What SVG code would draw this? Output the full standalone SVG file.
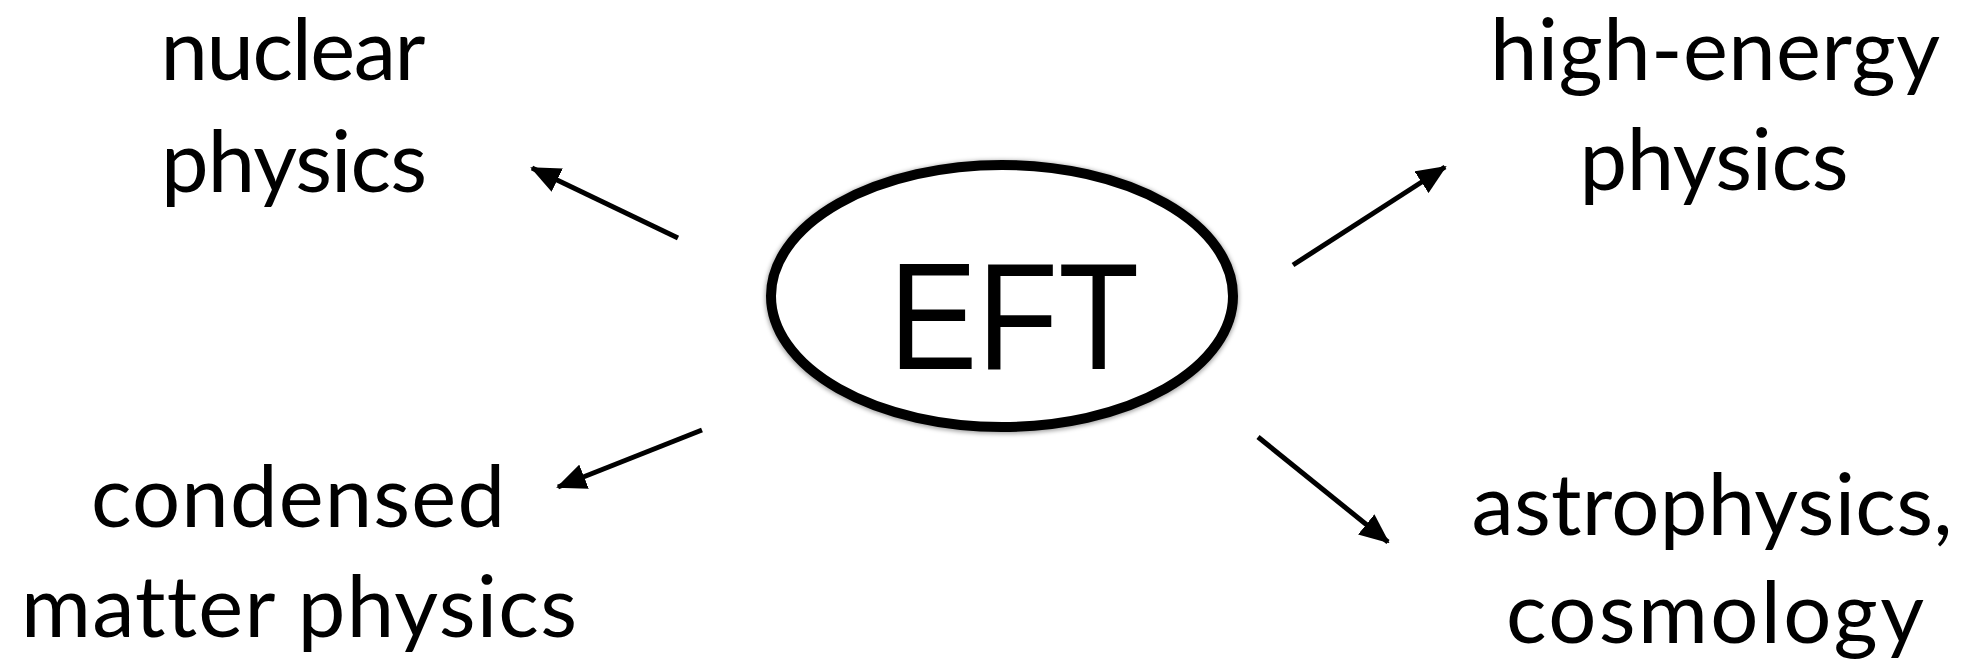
<svg xmlns="http://www.w3.org/2000/svg" width="1973" height="660" viewBox="0 0 1973 660">
<style>
.lbl{font-family:Lato,"Open Sans","Liberation Sans",sans-serif;font-size:85px;fill:#000;text-anchor:middle;font-variant-ligatures:none;font-feature-settings:"liga" 0,"dlig" 0}
.eft{font-family:"Liberation Sans",Arial,sans-serif;font-size:152px;fill:#000}
.arr{stroke:#000;stroke-width:5;fill:none;marker-end:url(#ah)}
</style>
<defs>
<marker id="ah" markerUnits="userSpaceOnUse" viewBox="0 0 30 26" refX="28" refY="13" markerWidth="30" markerHeight="26" orient="auto">
<path d="M0,0 L30,13 L0,26 Z" fill="#000"/>
</marker>
<filter id="sh" x="-10%" y="-10%" width="120%" height="120%">
<feGaussianBlur stdDeviation="2"/>
</filter>
</defs>
<rect width="1973" height="660" fill="#fff"/>
<g id="eft">
<ellipse cx="1002" cy="297" rx="231" ry="131" fill="none" stroke="#000" stroke-opacity="0.35" stroke-width="12" filter="url(#sh)"/>
<ellipse cx="1002" cy="296" rx="231" ry="131" fill="#fff" stroke="#000" stroke-width="10"/>
<text class="eft" x="889" y="369" textLength="250" lengthAdjust="spacingAndGlyphs">EFT</text>
</g>
<g id="nuclear">
<text class="lbl" x="293" y="80" textLength="265" lengthAdjust="spacing">nuclear</text>
<text class="lbl" x="294" y="192" textLength="266" lengthAdjust="spacing">physics</text>
</g>
<g id="highenergy">
<text class="lbl" x="1715" y="80" textLength="450" lengthAdjust="spacing">high-energy</text>
<text class="lbl" x="1714" y="190" textLength="269" lengthAdjust="spacing">physics</text>
</g>
<g id="condensed">
<text class="lbl" x="298" y="527" textLength="414" lengthAdjust="spacing">condensed</text>
<text class="lbl" x="299" y="637" textLength="556" lengthAdjust="spacing">matter physics</text>
</g>
<g id="astro">
<text class="lbl" x="1712" y="535" textLength="481" lengthAdjust="spacing">astrophysics,</text>
<text class="lbl" x="1715" y="643" textLength="418" lengthAdjust="spacing">cosmology</text>
</g>
<g id="connectors">
<line class="arr" x1="678" y1="238" x2="532" y2="168"/>
<line class="arr" x1="1293" y1="265" x2="1445" y2="167"/>
<line class="arr" x1="702" y1="430" x2="558" y2="487"/>
<line class="arr" x1="1258" y1="437" x2="1388" y2="542"/>
</g>
</svg>
